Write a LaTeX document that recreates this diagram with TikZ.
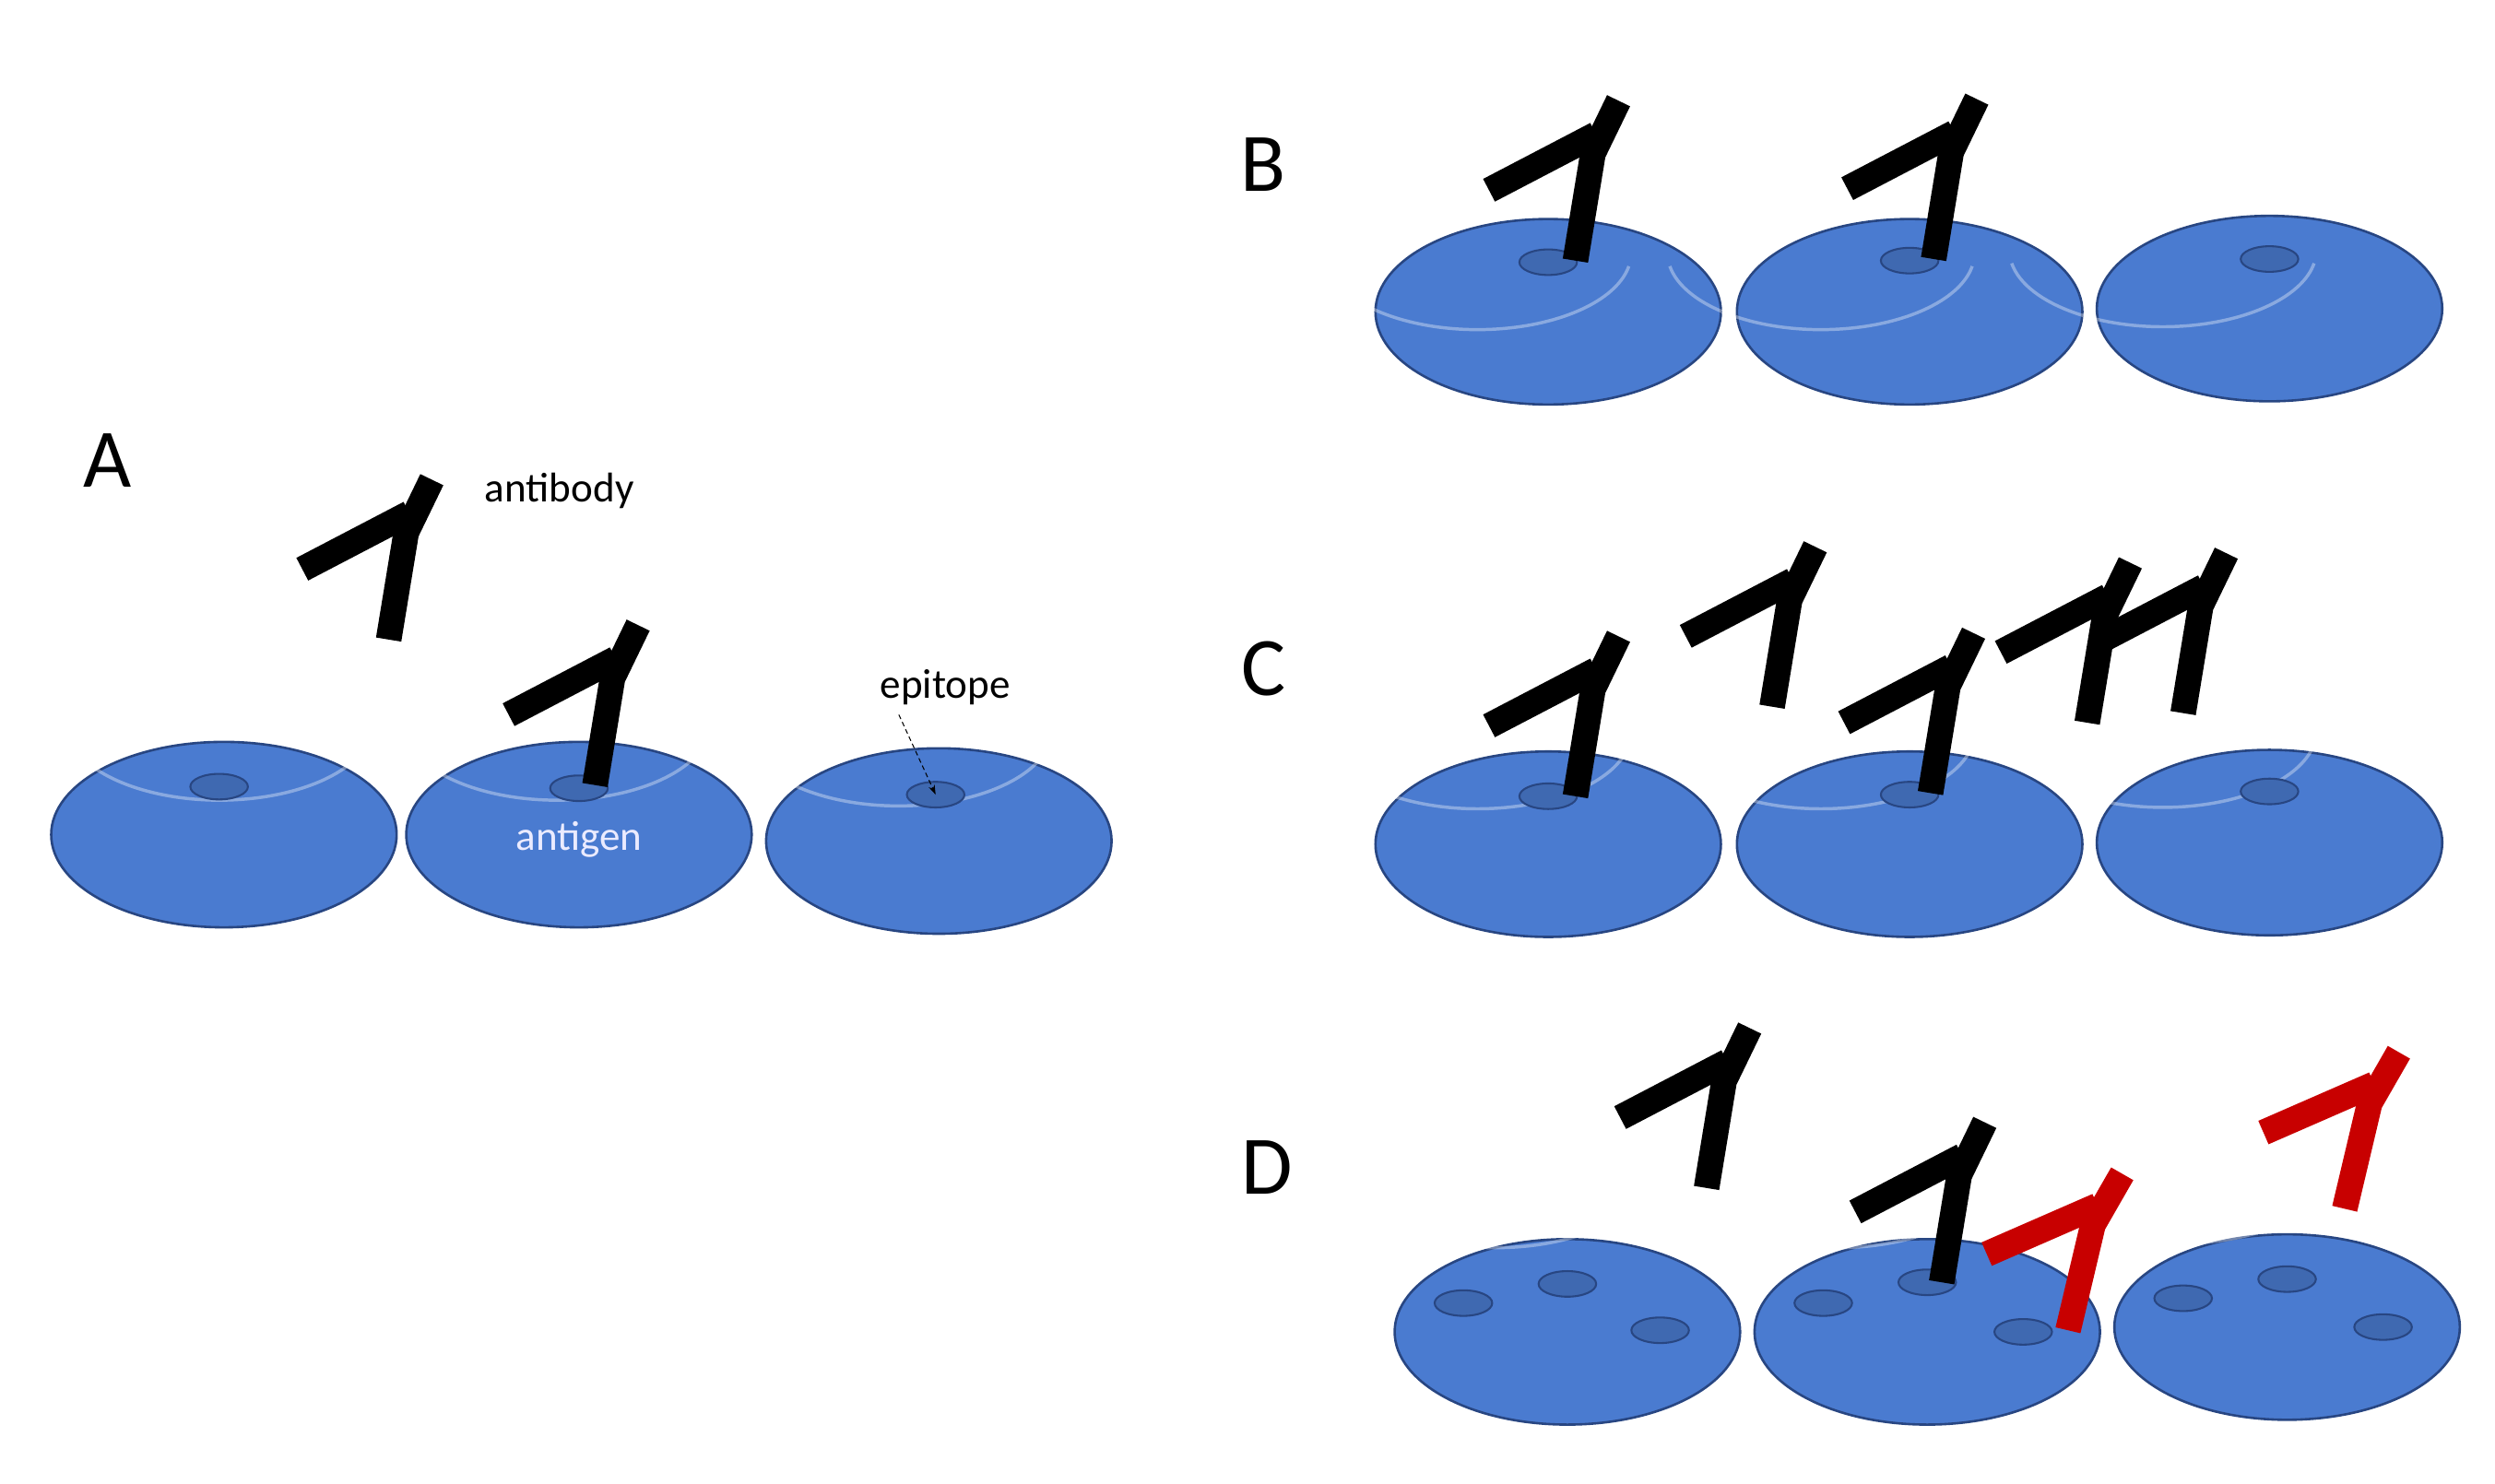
\documentclass[tikz,border=0pt]{standalone}
\usepackage{fontspec}
\setmainfont{Carlito}
\usetikzlibrary{shapes.geometric,arrows.meta}
\definecolor{cellblue}{RGB}{74,123,208}
\definecolor{celledge}{RGB}{40,70,130}
\definecolor{abred}{RGB}{200,0,0}
\tikzset{
  cell/.style={ellipse,minimum width=216pt,minimum height=116pt,fill=cellblue,draw=celledge,line width=1.5pt,inner sep=0pt},
  epi/.style={ellipse,minimum width=36pt,minimum height=16pt,fill=cellblue!85!black,draw=celledge,line width=1.2pt,inner sep=0pt},
  panel/.style={font=\fontsize{52}{56}\selectfont,inner sep=0pt},
  lbl/.style={font=\fontsize{26}{30}\selectfont,inner sep=0pt},
  ab/.pic={
    \draw[line width=16pt,line join=miter,pic actions] (0,0) -- (11,-67) -- (27,-100);
    \draw[line width=16pt,pic actions] (-54,-44) -- (13,-79);
  }
}
\newcommand{\mycell}[3]{%
  \node[cell] (#1) at (#2,#3) {};
  \draw[white,opacity=0.35,line width=2pt] ([xscale=0.95,yscale=0.9]#2-95,#3-10) arc[start angle=170,end angle=10,x radius=96,y radius=48];
}
\begin{document}
\begin{tikzpicture}[x=1pt,y=-1pt]
\useasboundingbox (0,0) rectangle (1560,928);
% Panel A
\node[panel] (lA) at (67,288) {A};
\mycell{a1}{140}{522}\mycell{a2}{362}{522}\mycell{a3}{587}{526}
\node[epi] (ea1) at (137,492) {};
\node[epi] (ea2) at (362,493) {};
\node[epi] (ea3) at (585,497) {};
\pic[black] (abA1) at (243,400) {ab};
\pic[black] (abA2) at (372,491) {ab};
\node[lbl,anchor=west] (tab) at (303,307) {antibody};
\node[lbl] (tep) at (591,430) {epitope};
\node[lbl,text=white!92!blue] (tag) at (362,525) {antigen};
\coordinate (epitail) at (562,447);
\draw[densely dashed,line width=0.6pt,-{Stealth[length=6pt,width=4pt]}] (epitail) -- (ea3.center);
% Panel B
\node[panel] (lB) at (790,103) {B};
\mycell{b1}{968}{195}\mycell{b2}{1194}{195}\mycell{b3}{1419}{193}
\node[epi] (eb1) at (968,164) {};
\node[epi] (eb2) at (1194,163) {};
\node[epi] (eb3) at (1419,162) {};
\pic (abB1) at (985,163) {ab};
\pic (abB2) at (1209,162) {ab};
% Panel C
\node[panel] (lC) at (790,418) {C};
\mycell{c1}{968}{528}\mycell{c2}{1194}{528}\mycell{c3}{1419}{527}
\node[epi] (ec1) at (968,498) {};
\node[epi] (ec2) at (1194,497) {};
\node[epi] (ec3) at (1419,495) {};
\pic (abC1) at (985,498) {ab};
\pic (abC2) at (1108,442) {ab};
\pic (abC3) at (1207,496) {ab};
\pic (abC4) at (1305,452) {ab};
\pic (abC5) at (1365,446) {ab};
% Panel D
\node[panel] (lD) at (792,730) {D};
\mycell{d1}{980}{833}\mycell{d2}{1205}{833}\mycell{d3}{1430}{830}
\node[epi] (ed11) at (915,815) {};
\node[epi] (ed12) at (980,803) {};
\node[epi] (ed13) at (1038,832) {};
\node[epi] (ed21) at (1140,815) {};
\node[epi] (ed22) at (1205,802) {};
\node[epi] (ed23) at (1265,833) {};
\node[epi] (ed31) at (1365,812) {};
\node[epi] (ed32) at (1430,800) {};
\node[epi] (ed33) at (1490,830) {};
\pic (abD1) at (1067,743) {ab};
\pic (abD2) at (1214,802) {ab};
\pic[abred,rotate=-4] (abD3) at (1293,832) {ab};
\pic[abred,rotate=-4] (abD4) at (1466,756) {ab};
\end{tikzpicture}
\end{document}
